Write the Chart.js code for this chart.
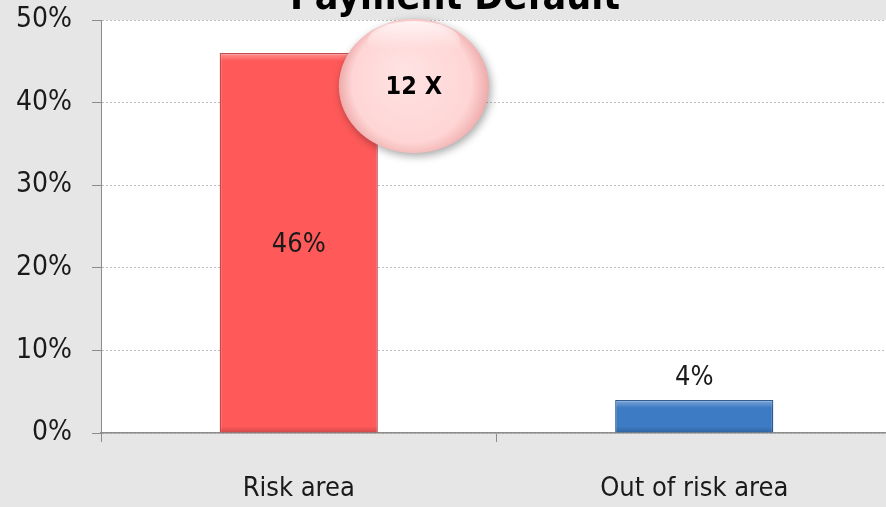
<!DOCTYPE html>
<html>
<head>
<meta charset="utf-8">
<script src="https://cdn.jsdelivr.net/npm/chart.js@4/dist/chart.umd.min.js"></script>
<style>
  html, body { margin: 0; padding: 0; background: #e6e6e6; overflow: hidden; }
  .wrap { width: 892px; height: 507px; }
</style>
</head>
<body>
<div class="wrap"><canvas id="chart"></canvas></div>
<script>
const categories = ['Risk area', 'Out of risk area'];
const defaultRate = [0.46, 0.04];
const yTicks = [0, 0.1, 0.2, 0.3, 0.4, 0.5];
const barColors = ['#ff5959', '#3d7bc4'];
const barBorders = ['#c94a4a', '#2b5a94'];

const titleText = 'Payment Default';
const ratioText = Math.round(defaultRate[0] / defaultRate[1]) + ' X';
const FONT = '"Liberation Sans Narrow", "DejaVu Sans Condensed", "Liberation Sans", sans-serif';

const plotBg = {
    id: 'plotBg',
    beforeDraw(chart) {
        const { ctx, chartArea: a } = chart;
        ctx.save();
        ctx.fillStyle = '#ffffff';
        ctx.fillRect(a.left, a.top, a.right - a.left, a.bottom - a.top);
        ctx.restore();
    }
};

const extras = {
    id: 'extras',
    afterDatasetsDraw(chart) {
        const { ctx, scales } = chart;
        const meta = chart.getDatasetMeta(0);
        ctx.save();

        // bevel shine along the top of each bar, darker band at the bottom
        meta.data.forEach((bar) => {
            const w = bar.width;
            const left = bar.x - w / 2;
            const h = bar.base - bar.y;
            const g = ctx.createLinearGradient(0, bar.y, 0, bar.y + Math.min(8, h));
            g.addColorStop(0, 'rgba(255,255,255,0.35)');
            g.addColorStop(1, 'rgba(255,255,255,0)');
            ctx.fillStyle = g;
            ctx.fillRect(left + 1, bar.y + 1, w - 2, Math.min(8, h - 2));
            const s = Math.min(6, h / 3);
            const gb = ctx.createLinearGradient(0, bar.base - s, 0, bar.base);
            gb.addColorStop(0, 'rgba(0,0,0,0)');
            gb.addColorStop(1, 'rgba(0,0,0,0.18)');
            ctx.fillStyle = gb;
            ctx.fillRect(left + 1, bar.base - s, w - 2, s);
        });

        ctx.fillStyle = '#1a1a1a';
        ctx.font = '27px ' + FONT;
        ctx.textAlign = 'center';
        ctx.textBaseline = 'middle';
        meta.data.forEach((bar, i) => {
            const v = defaultRate[i];
            const txt = Math.round(v * 100) + '%';
            if (v > 0.1) ctx.fillText(txt, bar.x, (bar.y + bar.base) / 2 + 2);
            else ctx.fillText(txt, bar.x, bar.y - 22);
        });

        // "12 X" bubble
        const b0 = meta.data[0];
        const cx = b0.x + b0.width / 2 + 36;
        const cy = scales.y.getPixelForValue(0.42);
        const rx = 75, ry = 67;
        ctx.save();
        ctx.shadowColor = 'rgba(0,0,0,0.35)';
        ctx.shadowBlur = 8;
        ctx.shadowOffsetX = 2;
        ctx.shadowOffsetY = 3;
        const rg = ctx.createRadialGradient(cx - 10, cy - 15, 5, cx, cy, rx);
        rg.addColorStop(0, '#ffe2e2');
        rg.addColorStop(0.78, '#ffd5d5');
        rg.addColorStop(1, '#eeaaaa');
        ctx.fillStyle = rg;
        ctx.beginPath();
        ctx.ellipse(cx, cy, rx, ry, 0, 0, Math.PI * 2);
        ctx.fill();
        ctx.restore();
        const gl = ctx.createLinearGradient(0, cy - ry, 0, cy - ry + 30);
        gl.addColorStop(0, 'rgba(255,255,255,0.8)');
        gl.addColorStop(1, 'rgba(255,255,255,0)');
        ctx.fillStyle = gl;
        ctx.beginPath();
        ctx.ellipse(cx, cy - ry + 22, rx * 0.62, 20, 0, 0, Math.PI * 2);
        ctx.fill();
        ctx.fillStyle = '#000000';
        ctx.font = 'bold 25px ' + FONT;
        ctx.fillText(ratioText, cx, cy + 1);

        // title, cut by the top edge as in the source
        ctx.font = 'bold 39px ' + FONT;
        ctx.textBaseline = 'alphabetic';
        ctx.fillText(titleText, 455, 9);
        ctx.restore();
    }
};

new Chart(document.getElementById('chart'), {
    type: 'bar',
    data: {
        labels: categories,
        datasets: [{
            data: defaultRate,
            backgroundColor: barColors,
            borderColor: barBorders,
            borderWidth: 1.5,
            barPercentage: 1,
            categoryPercentage: 0.4
        }]
    },
    options: {
        responsive: true,
        maintainAspectRatio: false,
        animation: false,
        devicePixelRatio: 1,
        layout: { padding: { top: 20, left: 0, right: 0, bottom: 0 } },
        plugins: {
            legend: { display: false },
            tooltip: { enabled: false },
            title: { display: false }
        },
        scales: {
            x: {
                grid: { offset: true, drawOnChartArea: false, color: '#8c8c8c', tickLength: 9 },
                border: { color: '#8c8c8c', width: 1.5 },
                ticks: { color: '#1a1a1a', font: { family: FONT, size: 27 }, padding: 31 },
                afterFit(scale) { scale.height = 74; scale.paddingLeft = 0; scale.paddingRight = 0; }
            },
            y: {
                min: 0,
                max: 0.5,
                afterBuildTicks(scale) { scale.ticks = yTicks.map(v => ({ value: v })); },
                ticks: {
                    color: '#1a1a1a',
                    font: { family: FONT, size: 28 },
                    padding: 20,
                    callback: v => Math.round(v * 100) + '%'
                },
                grid: {
                    color: '#bdbdbd',
                    tickColor: '#8c8c8c',
                    tickLength: 9,
                    tickBorderDash: [0, 0]
                },
                border: { color: '#8c8c8c', width: 1, dash: [2, 2] },
                afterFit(scale) { scale.width = 101; scale.paddingTop = 0; scale.paddingBottom = 0; }
            }
        }
    },
    plugins: [plotBg, extras]
});
</script>
</body>
</html>
